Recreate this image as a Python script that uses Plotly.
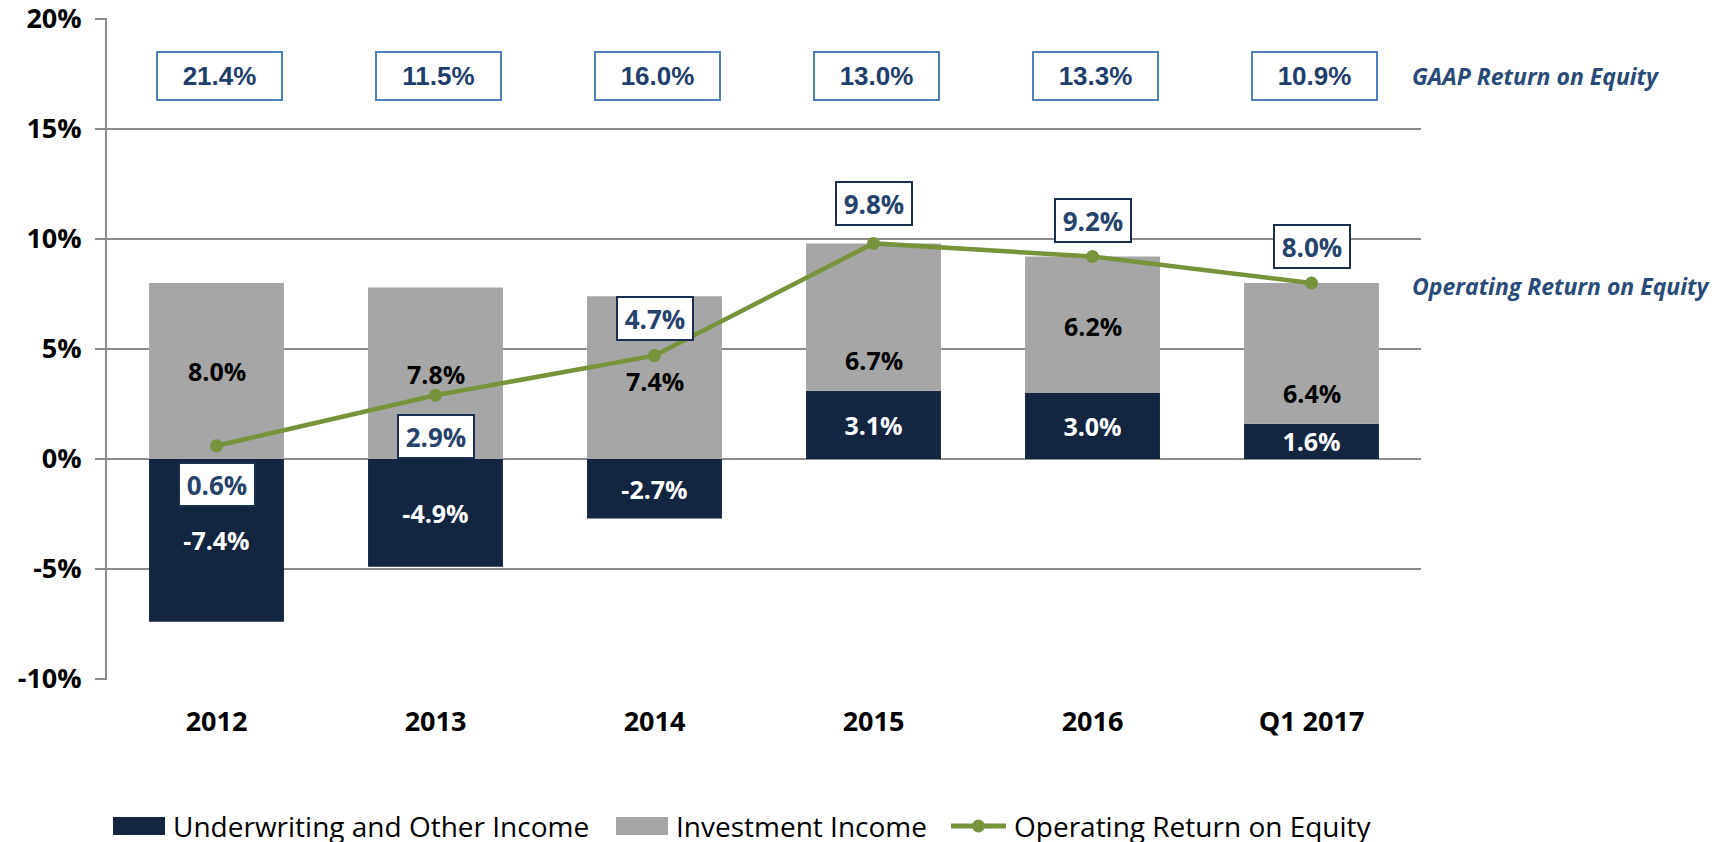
import plotly.graph_objects as go

# ---------------- data ----------------
categories = ["2012", "2013", "2014", "2015", "2016", "Q1 2017"]
underwriting = [-7.4, -4.9, -2.7, 3.1, 3.0, 1.6]
investment = [8.0, 7.8, 7.4, 6.7, 6.2, 6.4]
operating_roe = [0.6, 2.9, 4.7, 9.8, 9.2, 8.0]
gaap_roe = [21.4, 11.5, 16.0, 13.0, 13.3, 10.9]
y_tick_vals = [-10, -5, 0, 5, 10, 15, 20]
y_tick_text = ["-10%", "-5%", "0%", "5%", "10%", "15%", "20%"]

# label placement (layout only)
inv_label_y = [4.0, 3.85, 3.55, 4.5, 6.05, 3.0]
op_label_shift = [-39, -41, 37, 40, 36, 37]
gaap_box_y = 17.4

# ---------------- styles ----------------
NAVY = "#13253F"
GRAY = "#A6A6A6"
GREEN = "#77933C"
GRID = "#8C8C8C"
LABEL_BLUE = "#2A4A78"
BOX_TEXT = "#27436B"
FONT = "Open Sans"

OFF = 8  # default page body margin
W, H = 1729 - 2 * OFF, 842 - OFF
L, R, T, B = 107 - OFF, 1421 - OFF, 18 - OFF, 680 - OFF
Y_RANGE = [-10.045, 20.045]


def px(x):
    return (x - OFF - L) / (R - L)


def py(y):
    return (B - (y - OFF)) / (B - T)


fig = go.Figure()

fig.add_trace(go.Bar(
    x=categories, y=underwriting, name="Underwriting and Other Income",
    marker=dict(color=NAVY, line=dict(width=0)),
    text=[f"{v:.1f}%" for v in underwriting], textposition="inside",
    insidetextanchor="middle", textangle=0, constraintext="none",
    textfont=dict(family=FONT, size=25, color="white", weight="bold"),
    hoverinfo="skip", showlegend=False,
))
fig.add_trace(go.Bar(
    x=categories, y=investment, name="Investment Income",
    marker=dict(color=GRAY, line=dict(width=0)),
    hoverinfo="skip", showlegend=False,
))
fig.add_trace(go.Scatter(
    x=categories, y=operating_roe, name="Operating Return on Equity",
    mode="lines+markers", line=dict(color=GREEN, width=4.5),
    marker=dict(color=GREEN, size=13), hoverinfo="skip", showlegend=False,
))

ann = []
# investment labels (x given as category index)
for i, (v, yy) in enumerate(zip(investment, inv_label_y)):
    ann.append(dict(x=i, y=yy, xref="x", yref="y", text=f"{v:.1f}%", showarrow=False,
                    font=dict(family=FONT, size=25, color="black", weight="bold")))
# operating ROE boxes
for i, (v, s) in enumerate(zip(operating_roe, op_label_shift)):
    ann.append(dict(x=i, y=v, xref="x", yref="y", yshift=s, text=f"{v:.1f}%", showarrow=False,
                    font=dict(family=FONT, size=26, color=BOX_TEXT, weight="bold"),
                    bgcolor="white", bordercolor="#1B2F4E", borderwidth=2, borderpad=1,
                    width=72, height=39))
# GAAP ROE boxes
for i, v in enumerate(gaap_roe):
    ann.append(dict(x=i, y=gaap_box_y, xref="x", yref="y", xshift=3, text=f"{v:.1f}%", showarrow=False,
                    font=dict(family="Liberation Sans", size=26, color="#1F3E6B", weight="bold"),
                    bgcolor="white", bordercolor="#4F81BD", borderwidth=2, borderpad=1,
                    width=121, height=44))
# side labels
ann.append(dict(x=px(1410), y=py(76), xref="paper", yref="paper", xanchor="left", yanchor="middle",
                text="GAAP Return on Equity", showarrow=False,
                font=dict(family=FONT, size=23, color=LABEL_BLUE, weight="bold", style="italic")))
ann.append(dict(x=px(1410), y=py(286), xref="paper", yref="paper", xanchor="left", yanchor="middle",
                text="Operating Return on Equity", showarrow=False,
                font=dict(family=FONT, size=23, color=LABEL_BLUE, weight="bold", style="italic")))

# custom legend
LEG_Y = 826
legend_items = [
    ("rect", NAVY, 113, 165, 171, "Underwriting and Other Income"),
    ("rect", GRAY, 616, 668, 674, "Investment Income"),
    ("line", GREEN, 951, 1006, 1012, "Operating Return on Equity"),
]
shapes = []
for kind, col, x0, x1, tx, label in legend_items:
    if kind == "rect":
        shapes.append(dict(type="rect", xref="paper", yref="paper", x0=px(x0), x1=px(x1),
                           y0=py(LEG_Y + 9), y1=py(LEG_Y - 9), fillcolor=col, line=dict(width=0)))
    else:
        shapes.append(dict(type="line", xref="paper", yref="paper", x0=px(x0), x1=px(x1),
                           y0=py(LEG_Y), y1=py(LEG_Y), line=dict(color=col, width=5)))
        cx = (x0 + x1) / 2
        shapes.append(dict(type="circle", xref="paper", yref="paper", x0=px(cx - 6.5), x1=px(cx + 6.5),
                           y0=py(LEG_Y + 6.5), y1=py(LEG_Y - 6.5), fillcolor=col, line=dict(width=0)))
    ann.append(dict(x=px(tx), y=py(LEG_Y), xref="paper", yref="paper", xanchor="left", yanchor="middle",
                    text=label, showarrow=False, font=dict(family=FONT, size=28, color="black")))

fig.update_layout(
    width=W, height=H, barmode="relative", bargap=0.384,
    paper_bgcolor="white", plot_bgcolor="white",
    margin=dict(l=L, r=W - R, t=T, b=H - B, autoexpand=False),
    annotations=ann, shapes=shapes, showlegend=False,
)
fig.update_xaxes(type="category", range=[-0.5, len(categories) - 0.5],
                 showgrid=False, showline=False, zeroline=False, ticks="",
                 tickfont=dict(family=FONT, size=27, color="black", weight="bold"),
                 ticklabelstandoff=23)
fig.update_yaxes(range=Y_RANGE, tickvals=y_tick_vals, ticktext=y_tick_text,
                 showgrid=True, gridcolor=GRID, gridwidth=2,
                 zeroline=True, zerolinecolor=GRID, zerolinewidth=2,
                 showline=True, linecolor=GRID, linewidth=2,
                 ticks="outside", ticklen=10, tickcolor=GRID, tickwidth=2,
                 tickfont=dict(family=FONT, size=27, color="black", weight="bold"),
                 ticklabelstandoff=8, ticklabeloverflow="allow")

fig.write_html("out.html")
